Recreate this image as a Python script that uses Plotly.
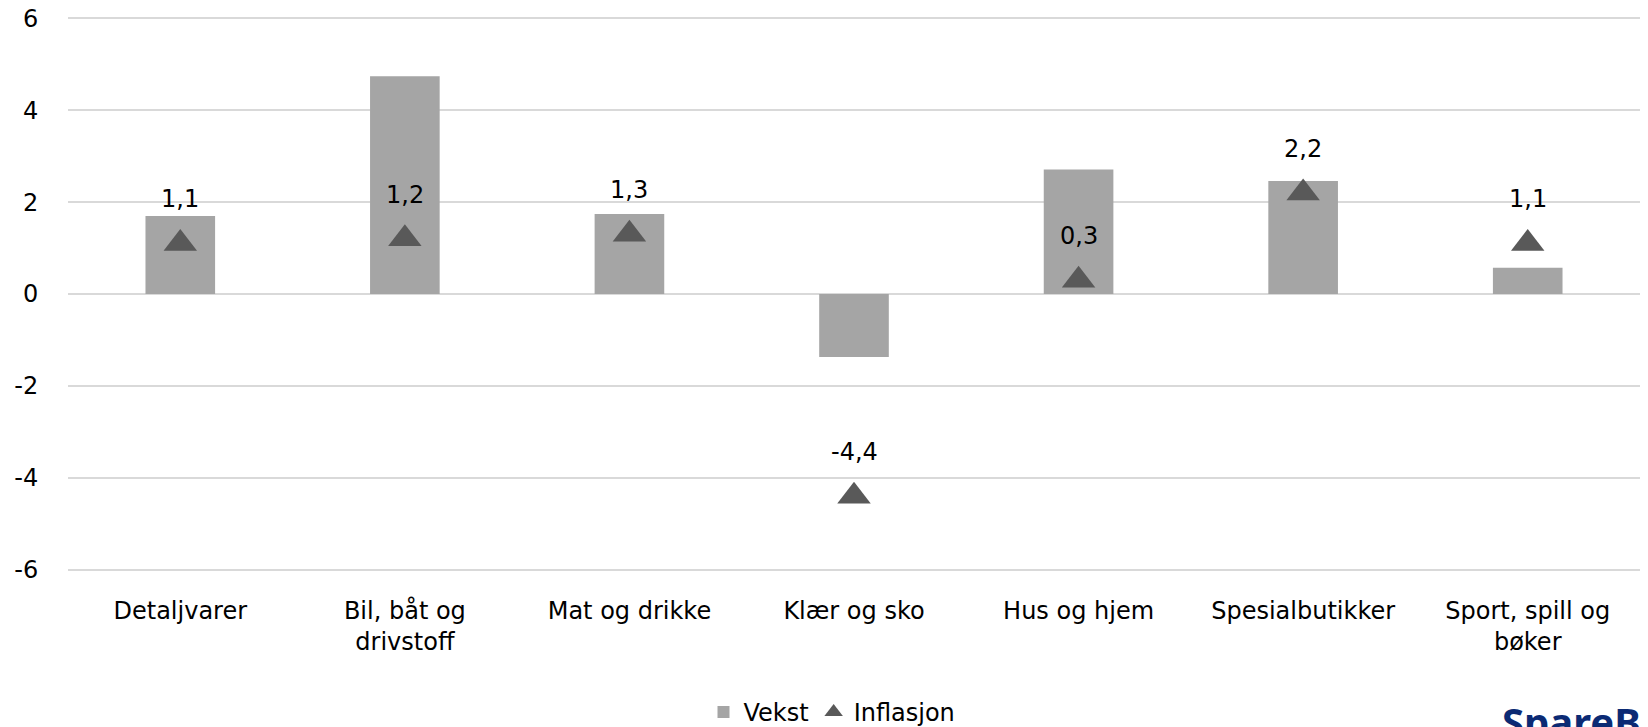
import plotly.graph_objects as go

categories = ["Detaljvarer", "Bil, båt og<br>drivstoff", "Mat og drikke", "Klær og sko",
              "Hus og hjem", "Spesialbutikker", "Sport, spill og<br>bøker"]
vekst = [1.70, 4.74, 1.74, -1.37, 2.71, 2.46, 0.57]
inflasjon = [1.1, 1.2, 1.3, -4.4, 0.3, 2.2, 1.1]
y_ticks = [-6, -4, -2, 0, 2, 4, 6]
y_ticktext = [str(v) for v in y_ticks]

FONT = "DejaVu Sans"
FS = 24
fig = go.Figure()
fig.add_trace(go.Bar(x=categories, y=vekst, name="Vekst", marker_color="#a5a5a5",
                     marker_line_width=0, width=0.31))
fig.add_trace(go.Scatter(x=categories, y=inflasjon, name="Inflasjon", mode="markers",
                         marker=dict(symbol="triangle-up", size=29, color="#595959")))

for c, v in zip(categories, inflasjon):
    fig.add_annotation(x=c, y=v, text=f"{v:.1f}".replace(".", ","), showarrow=False,
                       yshift=44, yanchor="middle",
                       font=dict(family=FONT, size=FS, color="#000000"))

fig.add_annotation(xref="paper", yref="paper", x=(1500 - 68) / 1572, y=-0.216,
                   xanchor="left", yanchor="top", text="<b>SpareBank 1</b>", showarrow=False,
                   font=dict(family="Noto Sans", size=40, color="#0b2a74"))

fig.update_layout(
    width=1648, height=727,
    margin=dict(l=60, r=16, t=7.7, b=162.7, autoexpand=False),
    plot_bgcolor="white", paper_bgcolor="white",
    font=dict(family=FONT, size=FS, color="#000000"),
    showlegend=True,
    legend=dict(orientation="h", x=0.5, xref="container", xanchor="center",
                y=0.0, yref="container", yanchor="bottom",
                font=dict(family=FONT, size=FS),
                traceorder="normal", tracegroupgap=0, itemwidth=30),
)
fig.update_xaxes(showgrid=False, showline=False, ticks="outside", ticklen=17,
                 tickcolor="rgba(0,0,0,0)", tickfont=dict(family=FONT, size=FS),
                 automargin=False)
fig.update_yaxes(range=[-6.05, 6.05], tickvals=y_ticks, ticktext=y_ticktext,
                 showgrid=True, gridcolor="#d9d9d9",
                 gridwidth=1.5, zeroline=True, zerolinecolor="#d9d9d9", zerolinewidth=1.5,
                 showline=False, ticks="outside", ticklen=24, tickcolor="rgba(0,0,0,0)",
                 tickfont=dict(family=FONT, size=FS), automargin=False,
                 ticklabeloverflow="allow")

fig.write_html("out.html")
